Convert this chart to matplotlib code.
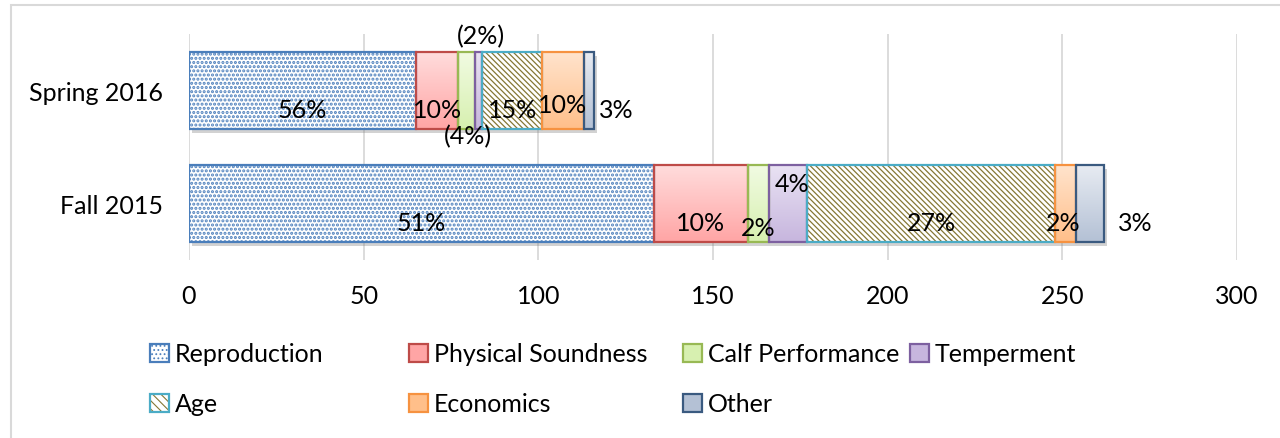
import numpy as np
import matplotlib.pyplot as plt
import matplotlib.patheffects as pe
from matplotlib.colors import LinearSegmentedColormap
from matplotlib.patches import Patch, Rectangle
from matplotlib.legend_handler import HandlerTuple

plt.rcParams["font.family"] = ["Lato", "DejaVu Sans"]
plt.rcParams["hatch.linewidth"] = 0.8

# culling reasons, head counts per season
seasons = ["Fall 2015", "Spring 2016"]
reasons = ["Reproduction", "Physical Soundness", "Calf Performance",
           "Temperment", "Age", "Economics", "Other"]
reproduction = [133, 65]
physical_soundness = [27, 12]
calf_performance = [6, 5]
temperment = [11, 2]
age = [71, 17]
economics = [6, 12]
other = [8, 3]

# percentages printed in brackets
bracketed = {("Spring 2016", "Calf Performance"), ("Spring 2016", "Temperment")}

styles = {
    "Reproduction": dict(hatch="....", ink="#4F81BD", edge="#4A7EBB", hlw=1.5),
    "Physical Soundness": dict(top="#FFDCDC", bottom="#FFA5A5", edge="#BE4B48"),
    "Calf Performance": dict(top="#F1FBE2", bottom="#D7F0B0", edge="#98B954"),
    "Temperment": dict(top="#E9E2F3", bottom="#C7B6DE", edge="#7D60A0"),
    "Age": dict(hatch="\\\\\\\\\\\\", ink="#857735", edge="#4BACC6", hlw=0.9),
    "Economics": dict(top="#FFE3CC", bottom="#FFBF8A", edge="#F69240"),
    "Other": dict(top="#E7EBF2", bottom="#B4C1D5", edge="#3A5A80"),
}

# label nudges in pixels (dx, dy) from the segment centre
label_nudge = {
    ("Spring 2016", "Calf Performance"): (1, -45),
    ("Spring 2016", "Temperment"): (2, 55),
    ("Spring 2016", "Economics"): (0, -14),
    ("Fall 2015", "Calf Performance"): (0, -24),
    ("Fall 2015", "Temperment"): (4, 20),
    ("Fall 2015", "Economics"): (-3, -19),
}
outside_gap = {"Spring 2016": 5, "Fall 2015": 14}

BAR_H = 0.68
FS = 18


def fill_gradient(ax, bar, top, bottom):
    x0, y0 = bar.get_xy()
    cmap = LinearSegmentedColormap.from_list("grad", [bottom, top])
    grad = np.linspace(0, 1, 64).reshape(-1, 1)
    im = ax.imshow(grad, cmap=cmap, origin="lower", aspect="auto",
                   extent=(x0, x0 + bar.get_width(), y0, y0 + bar.get_height()),
                   interpolation="bilinear", zorder=2)
    im.set_clip_path(bar)


fig = plt.figure(figsize=(12.8, 4.39), dpi=100)
ax = fig.add_axes([189 / 1280, 1 - 261 / 439, 1048 / 1280, 226 / 439])

values = np.array([reproduction, physical_soundness, calf_performance,
                   temperment, age, economics, other], dtype=float)
totals = values.sum(axis=0)
y = np.arange(len(seasons))

# soft drop shadow under each whole stack
ax.barh(y, totals, height=BAR_H, color="none", linewidth=0, zorder=1.8,
        path_effects=[pe.SimplePatchShadow(offset=(2, -3), shadow_rgbFace="#7F7F7F", alpha=0.35)])

left = np.zeros(len(seasons))
handles = []
for name, vals in zip(reasons, values):
    st = styles[name]
    if "hatch" in st:
        with plt.rc_context({"hatch.linewidth": st["hlw"]}):
            bars = ax.barh(y, vals, left=left, height=BAR_H, color="white", edgecolor=st["ink"],
                           hatch=st["hatch"], linewidth=0, zorder=2)
            fill = Patch(facecolor="white", edgecolor=st["ink"], linewidth=0,
                         hatch="...." if name == "Reproduction" else "\\\\\\\\")
        for b in list(bars) + [fill]:
            if hasattr(b, "set_hatch_linewidth"):
                b.set_hatch_linewidth(st["hlw"])
    else:
        bars = ax.barh(y, vals, left=left, height=BAR_H, color="none", linewidth=0, zorder=2)
        for b in bars:
            fill_gradient(ax, b, st["top"], st["bottom"])
        fill = Patch(facecolor=st["bottom"], linewidth=0)
    ax.barh(y, vals, left=left, height=BAR_H, fill=False, edgecolor=st["edge"],
            linewidth=1.6, zorder=3)
    handles.append((fill, Patch(fill=False, edgecolor=st["edge"], linewidth=1.6)))

    for i, season in enumerate(seasons):
        pct = round(100 * vals[i] / totals[i])
        text = f"({pct}%)" if (season, name) in bracketed else f"{pct}%"
        if name == "Other":
            ax.annotate(text, (left[i] + vals[i], y[i]), xytext=(outside_gap[season], -19),
                        textcoords="offset pixels", ha="left", va="center",
                        fontsize=FS, zorder=4)
        else:
            dx, dy = label_nudge.get((season, name), (0, -19))
            ax.annotate(text, (left[i] + vals[i] / 2, y[i]), xytext=(dx, dy),
                        textcoords="offset pixels", ha="center", va="center",
                        fontsize=FS, zorder=4, annotation_clip=False)
    left += vals

ax.set_xlim(0, 300)
ax.set_ylim(-0.5, 1.5)
ax.set_xticks(np.arange(0, 301, 50))
ax.set_yticks(y, seasons)
ax.grid(axis="x", color="#D9D9D9", linewidth=1.3)
ax.set_axisbelow(True)
for s in ax.spines.values():
    s.set_visible(False)
ax.tick_params(length=0, labelsize=FS, colors="black")
ax.tick_params(axis="x", pad=17)
ax.tick_params(axis="y", pad=19)

# legend entries laid out on a fixed grid
legend_pos = [(150, 355), (409, 355), (683, 355), (910, 355),
              (150, 405), (409, 405), (683, 405)]
for name, h, (px, py) in zip(reasons, handles, legend_pos):
    fig.legend([h], [name], loc="center left", bbox_to_anchor=(px / 1280, 1 - py / 439),
               frameon=False, fontsize=FS, handlelength=0.75, handleheight=0.75,
               handletextpad=0.25, borderpad=0, borderaxespad=0,
               handler_map={tuple: HandlerTuple(ndivide=1)})

# chart frame
fig.patches.append(Rectangle((11 / 1280, -0.1), 1.2, 1 - 6 / 439 + 0.1, transform=fig.transFigure,
                             fill=False, edgecolor="#D9D9D9", linewidth=1.5))

fig.savefig("out.png", dpi=100)
